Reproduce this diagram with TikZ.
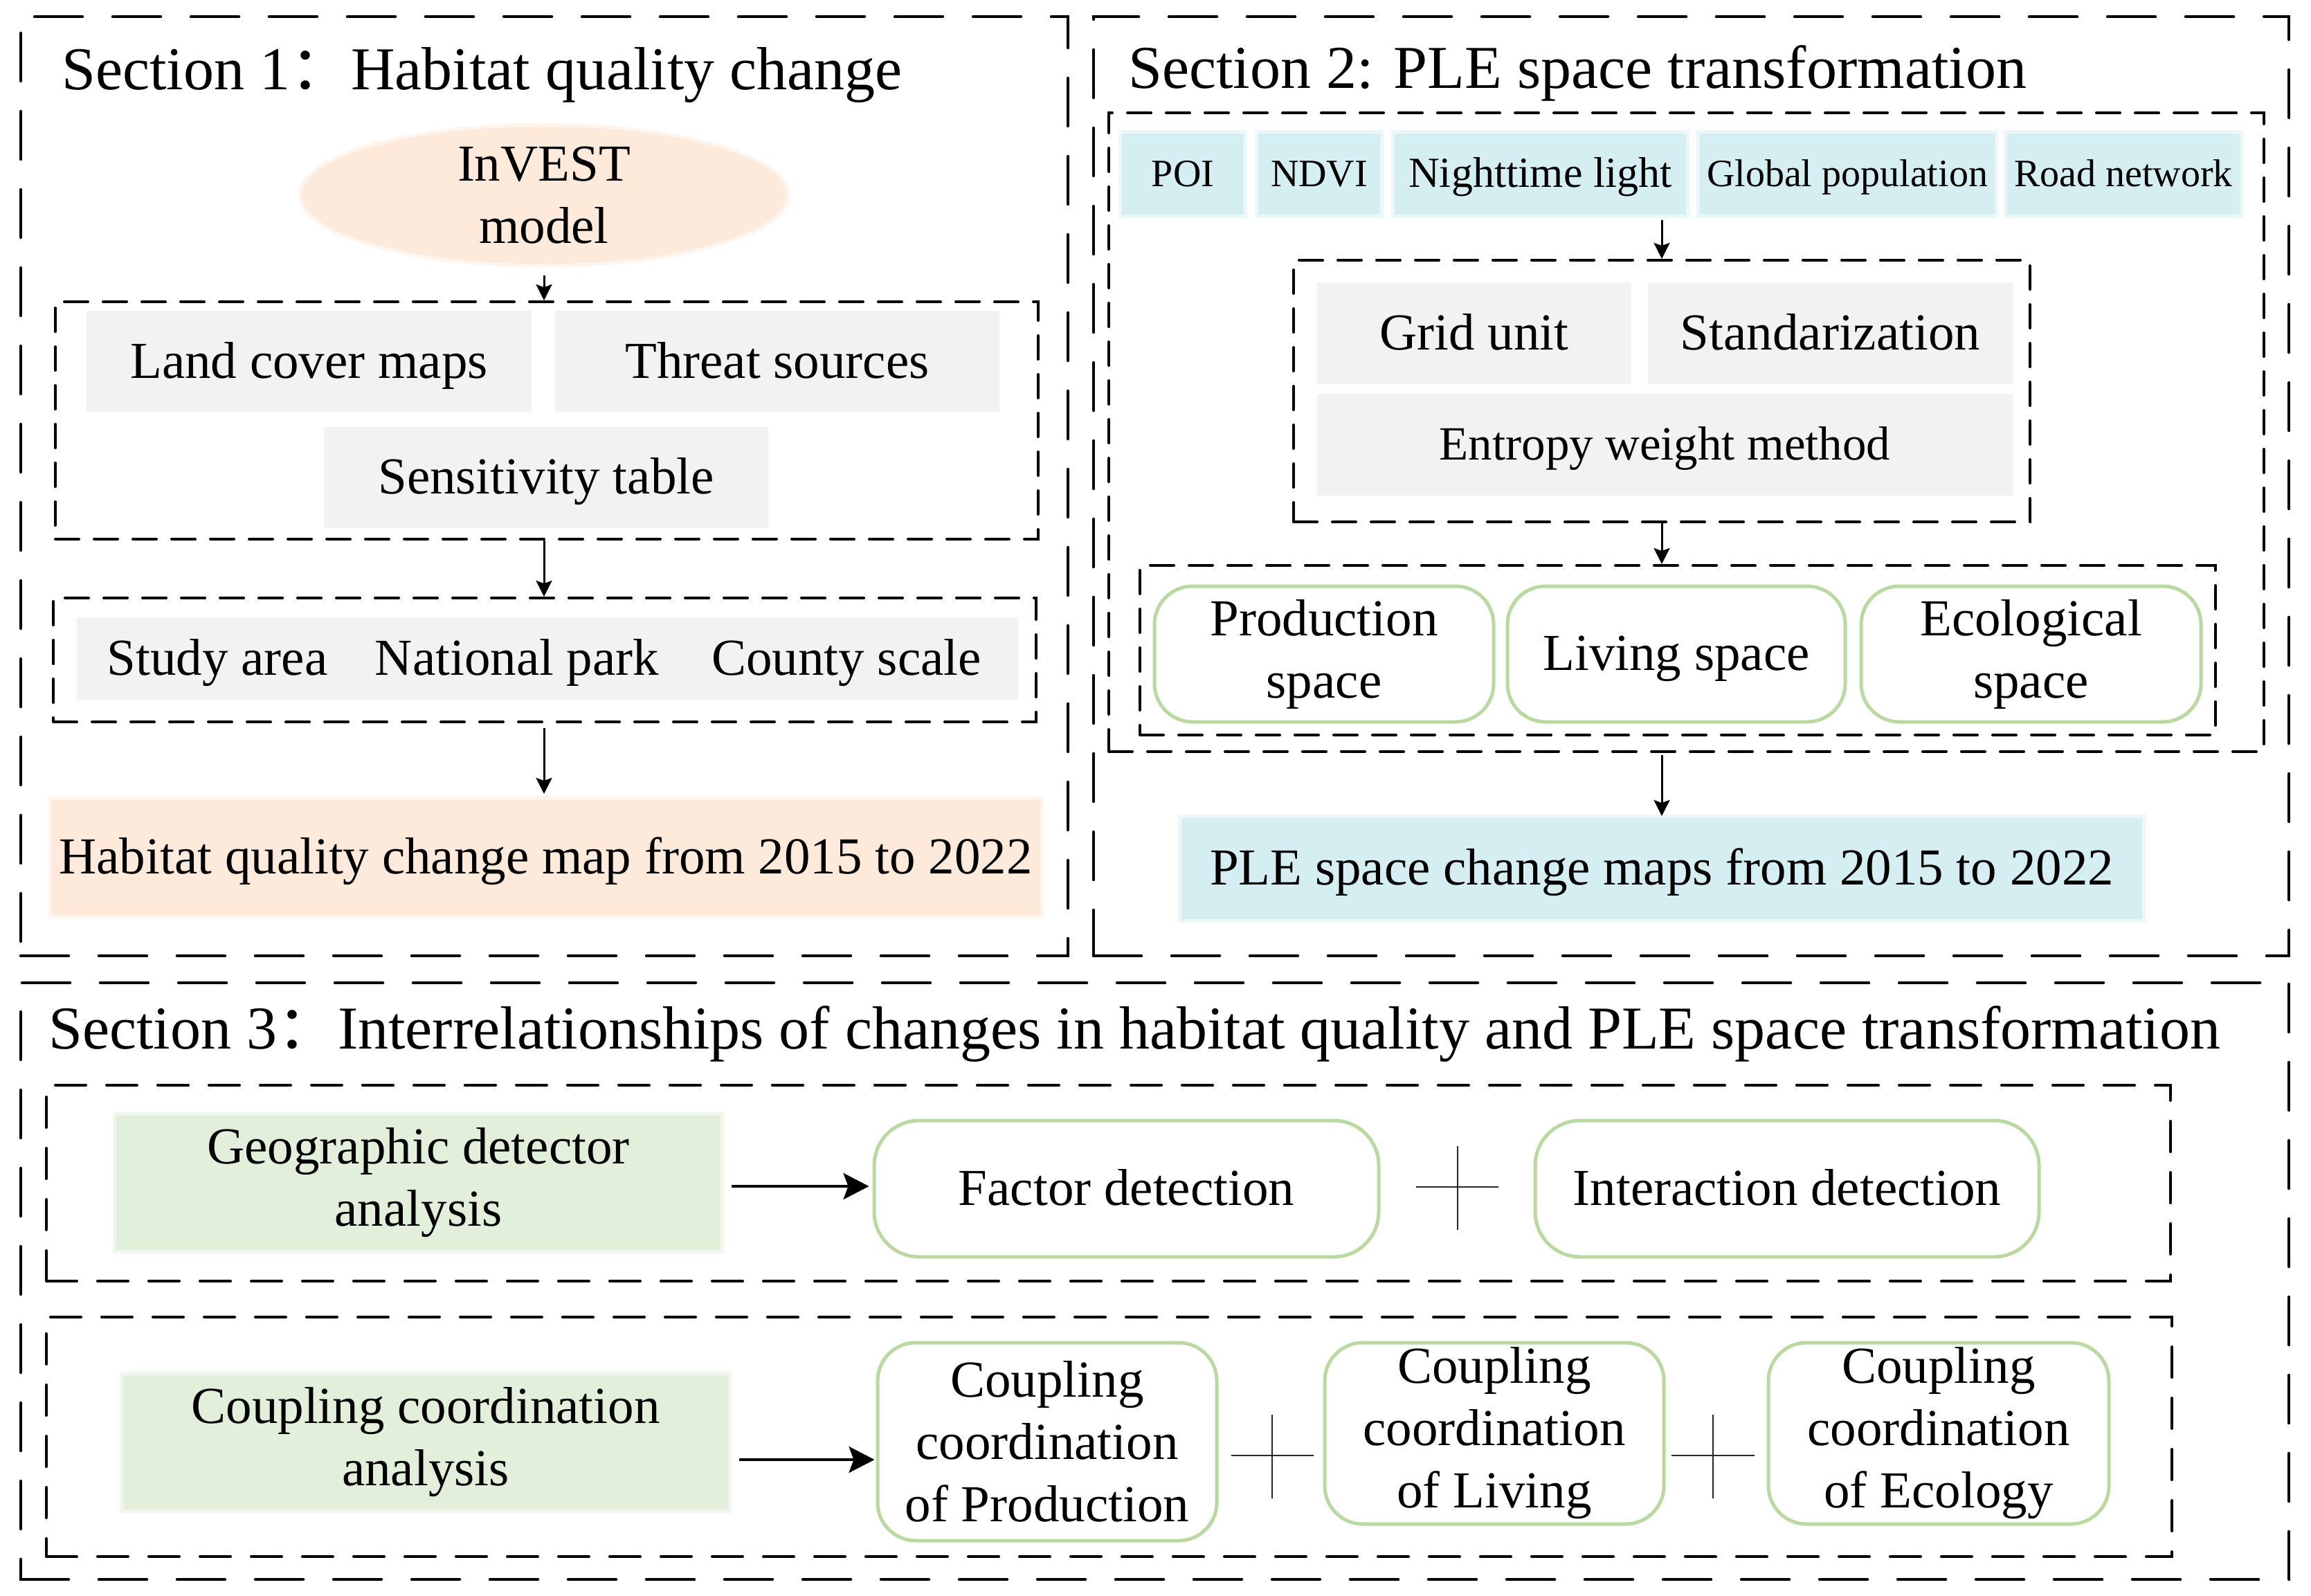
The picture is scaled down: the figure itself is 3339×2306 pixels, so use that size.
\documentclass[tikz,border=0pt]{standalone}
\usepackage{fontspec}
\setmainfont{Liberation Serif}
\newfontfamily\cjkfont{Noto Sans CJK SC}
\usetikzlibrary{arrows.meta,shapes.geometric}
\definecolor{grayfill}{RGB}{242,242,242}
\definecolor{bluefill}{RGB}{213,238,242}
\definecolor{peachfill}{RGB}{253,234,218}
\definecolor{greenfill}{RGB}{226,239,218}
\definecolor{greenline}{RGB}{185,217,160}
\begin{document}
\begin{tikzpicture}[x=1pt,y=-1pt,
 outerbox/.style={draw, line width=4.5pt, dash pattern=on 69pt off 44pt, line cap=round, inner sep=0pt},
 innerbox/.style={draw, line width=4pt, dash pattern=on 34pt off 22pt, line cap=round, inner sep=0pt},
 innerboxL/.style={draw, line width=4pt, dash pattern=on 44pt off 30pt, line cap=round, inner sep=0pt},
 txt/.style={font=\fontsize{75}{90}\selectfont, align=center},
 one/.style={text height=57pt, text depth=10pt},
 onesmall/.style={text height=44pt, text depth=8pt},
 graybox/.style={txt, fill=grayfill, inner sep=0pt},
 bluebox/.style={txt, fill=bluefill, draw=bluefill, draw opacity=0.45, line width=10pt, inner sep=0pt},
 peachbox/.style={txt, fill=peachfill, draw=peachfill, draw opacity=0.45, line width=10pt, inner sep=0pt},
 greenbox/.style={txt, fill=greenfill, draw=greenfill, draw opacity=0.45, line width=10pt, inner sep=0pt},
 roundbox/.style={txt, draw=greenline, line width=5pt, rounded corners=55pt, inner sep=0pt},
 title/.style={anchor=base west, inner sep=0pt, font=\fontsize{88}{100}\selectfont},
 arr/.style={line width=3pt, -{Stealth[length=23pt,width=23pt,inset=4pt]}},
 bigarr/.style={line width=3.5pt, -{Stealth[length=37pt,width=38pt,inset=7pt]}},
 plusline/.style={line width=1.6pt, black!85}
]
\useasboundingbox (0,0) rectangle (3339,2306);
\fill[white] (0,0) rectangle (3339,2306);

% ---------------- Section 1 ----------------
\node[outerbox, minimum width=1513pt, minimum height=1357pt] (s1) at (786.5,702.5) {};
\node[title] (t1) at (89,130) {Section 1{\cjkfont ：}Habitat quality change};
\node[ellipse, txt, fill=peachfill, draw=peachfill, draw opacity=0.45, line width=10pt, inner sep=0pt,
      minimum width=700pt, minimum height=190pt] (invest) at (786,282) {InVEST\\model};
\node[innerbox, minimum width=1420pt, minimum height=343pt] (db1) at (790,607.5) {};
\node[graybox, one, minimum width=643pt, minimum height=147pt] (land) at (446.5,522.5) {Land cover maps};
\node[graybox, one, minimum width=642pt, minimum height=147pt] (threat) at (1123,522.5) {Threat sources};
\node[graybox, one, minimum width=642pt, minimum height=146pt] (sens) at (789,690) {Sensitivity table};
\node[innerbox, minimum width=1420pt, minimum height=179pt] (db2) at (787,953.5) {};
\node[graybox, minimum width=1360pt, minimum height=120pt] (scale) at (791,952) {};
\node[txt, one, inner sep=0pt] (study) at (314,952) {Study area};
\node[txt, one, inner sep=0pt] (park) at (747,952) {National park};
\node[txt, one, inner sep=0pt] (county) at (1223,952) {County scale};
\node[peachbox, one, minimum width=1429pt, minimum height=167pt] (hqmap) at (788.5,1238.5) {Habitat quality change map from 2015 to 2022};

\draw[arr, shorten <=12pt] (invest.south) -- (invest.south |- db1.north);
\draw[arr] (db1.south -| invest.south) -- (invest.south |- db2.north);
\draw[arr, shorten <=7pt, shorten >=3pt] (db2.south -| invest.south) -- (invest.south |- hqmap.north);

% ---------------- Section 2 ----------------
\node[outerbox, minimum width=1727pt, minimum height=1357pt] (s2) at (2443.5,702.5) {};
\node[title] (t2) at (1630,128) {Section 2: PLE space transformation};
\node[innerbox, minimum width=1669pt, minimum height=923pt] (dbA) at (2436.5,624.5) {};
\node[bluebox, onesmall, minimum width=176pt, minimum height=117pt, font=\fontsize{56}{66}\selectfont] (poi) at (1709,251.5) {POI};
\node[bluebox, onesmall, minimum width=176pt, minimum height=117pt, font=\fontsize{56}{66}\selectfont] (ndvi) at (1906,251.5) {NDVI};
\node[bluebox, text height=48pt, text depth=9pt, minimum width=421pt, minimum height=117pt, font=\fontsize{62}{72}\selectfont] (night) at (2225.5,251.5) {Nighttime light};
\node[bluebox, onesmall, minimum width=426pt, minimum height=117pt, font=\fontsize{56}{66}\selectfont] (glob) at (2669,251.5) {Global population};
\node[bluebox, onesmall, minimum width=336pt, minimum height=117pt, font=\fontsize{56}{66}\selectfont] (road) at (3068,251.5) {Road network};
\node[innerbox, minimum width=1064pt, minimum height=378pt] (dbB) at (2401,565) {};
\node[graybox, one, minimum width=454pt, minimum height=147pt] (grid) at (2130,481.5) {Grid unit};
\node[graybox, one, minimum width=527pt, minimum height=147pt] (stand) at (2644.5,481.5) {Standarization};
\node[graybox, text height=53pt, text depth=9pt, minimum width=1005pt, minimum height=147pt, font=\fontsize{69}{83}\selectfont] (entropy) at (2405.5,642.5) {Entropy weight method};
\node[innerbox, minimum width=1554pt, minimum height=245pt] (dbC) at (2424,939.5) {};
\node[roundbox, minimum width=490pt, minimum height=196pt] (prod) at (1913,945) {Production\\space};
\node[roundbox, one, minimum width=488pt, minimum height=196pt] (living) at (2422,945) {Living space};
\node[roundbox, minimum width=491pt, minimum height=196pt] (eco) at (2934.5,945) {Ecological\\space};
\node[bluebox, one, minimum width=1388pt, minimum height=146pt] (plemap) at (2401,1255) {PLE space change maps from 2015 to 2022};

\draw[arr, shorten <=3pt] (dbB.north |- night.south) -- (dbB.north);
\draw[arr] (dbB.south) -- (dbB.south |- dbC.north);
\draw[arr, shorten <=3pt, shorten >=-2pt] (dbA.south -| plemap.north) -- (plemap.north);

% ---------------- Section 3 ----------------
\node[outerbox, minimum width=3277pt, minimum height=862pt] (s3) at (1668.5,1851) {};
\node[title] (t3) at (70,1515) {Section 3{\cjkfont ：}Interrelationships of changes in habitat quality and PLE space transformation};
\node[innerboxL, minimum width=3069pt, minimum height=283pt] (dbD) at (1601.5,1709.5) {};
\node[greenbox, minimum width=873pt, minimum height=194pt] (geo) at (604.5,1709) {Geographic detector\\analysis};
\node[roundbox, one, minimum width=729pt, minimum height=197pt, rounded corners=65pt] (factor) at (1627.5,1717.5) {Factor detection};
\node[roundbox, one, minimum width=728pt, minimum height=197pt, rounded corners=65pt] (inter) at (2582,1717.5) {Interaction detection};
\node[innerboxL, minimum width=3071pt, minimum height=346pt] (dbE) at (1602.5,2076) {};
\node[greenbox, minimum width=874pt, minimum height=194pt] (cca) at (615,2084) {Coupling coordination\\analysis};
\node[roundbox, minimum width=490pt, minimum height=286pt] (cprod) at (1513,2083) {Coupling\\coordination\\of Production};
\node[roundbox, minimum width=490pt, minimum height=262pt] (cliv) at (2159,2071) {Coupling\\coordination\\of Living};
\node[roundbox, minimum width=492pt, minimum height=262pt] (ceco) at (2801,2071) {Coupling\\coordination\\of Ecology};

\draw[bigarr, shorten <=11pt, shorten >=5pt] ([yshift=-5pt]geo.east) -- ([yshift=-5pt]geo.east -| factor.west);
\draw[bigarr, shorten <=11pt, shorten >=2pt] ([yshift=-25pt]cca.east) -- ([yshift=-25pt]cca.east -| cprod.west);

% plus signs
\draw[plusline] (2046,1715) -- (2165,1715) (2106,1656) -- (2106,1777);
\draw[plusline] (1779,2103) -- (1898,2103) (1838,2044) -- (1838,2165);
\draw[plusline] (2415,2103) -- (2535,2103) (2475,2044) -- (2475,2165);
\end{tikzpicture}
\end{document}
